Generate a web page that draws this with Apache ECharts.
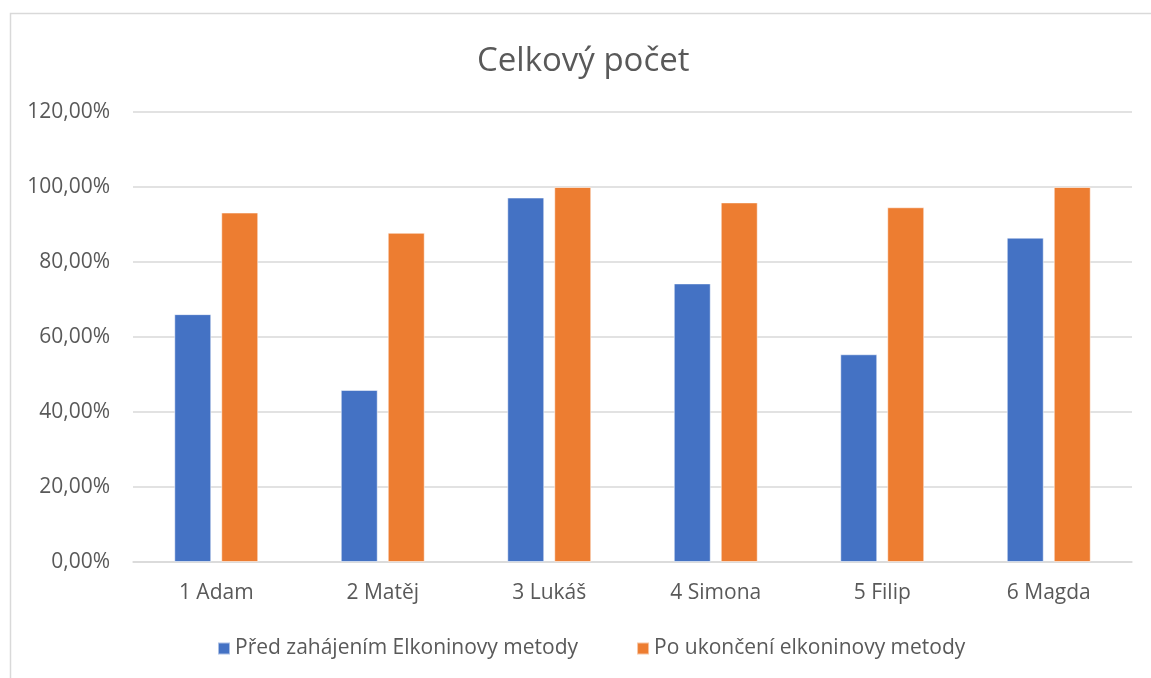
<!DOCTYPE html>
<html lang="cs">
<head>
<meta charset="utf-8">
<title>Celkový počet</title>
<script src="https://cdn.jsdelivr.net/npm/echarts@6/dist/echarts.min.js"></script>
<style>
  html, body { margin: 0; padding: 0; background: #ffffff; }
  #chart { width: 1151px; height: 678px; }
</style>
</head>
<body>
<div id="chart"></div>
<script>
// Children and their overall scores (percent)
const categories = ['1 Adam', '2 Matěj', '3 Lukáš', '4 Simona', '5 Filip', '6 Magda'];
const seriesNames = ['Před zahájením Elkoninovy metody', 'Po ukončení elkoninovy metody'];
const beforeValues = [66.1, 45.9, 97.2, 74.3, 55.4, 86.5];
const afterValues = [93.2, 87.8, 100, 95.9, 94.6, 100];
const yTickLabels = ['0,00%', '20,00%', '40,00%', '60,00%', '80,00%', '100,00%', '120,00%'];

const FONT = '"Open Sans", "DejaVu Sans", sans-serif';
const TEXT = '#595959';
const GRID_LINE = '#d9d9d9';

const chart = echarts.init(document.getElementById('chart'), null, { renderer: 'canvas' });

chart.setOption({
  animation: false,
  backgroundColor: '#ffffff',
  textStyle: { fontFamily: FONT, color: TEXT },
  graphic: [{
    type: 'rect',
    shape: { x: 10.5, y: 13.5, width: 1300, height: 800 },
    style: { fill: 'none', stroke: GRID_LINE, lineWidth: 1.5 },
    silent: true
  }],
  title: {
    text: 'Celkový počet',
    left: 477,
    top: 45,
    padding: 0,
    textStyle: { fontFamily: FONT, fontSize: 33, fontWeight: 'normal', color: TEXT }
  },
  legend: {
    data: seriesNames,
    bottom: 14,
    left: 212,
    itemWidth: 12,
    itemHeight: 12,
    itemGap: 58,
    icon: 'rect',
    textStyle: { fontFamily: FONT, fontSize: 21, color: TEXT }
  },
  grid: { left: 133, right: 19, top: 112, bottom: 116, containLabel: false },
  xAxis: {
    type: 'category',
    data: categories,
    axisLine: { show: true, lineStyle: { color: GRID_LINE, width: 1.5 } },
    axisTick: { show: false },
    axisLabel: { fontFamily: FONT, fontSize: 21, color: TEXT, margin: 21 }
  },
  yAxis: {
    type: 'value',
    min: 0,
    max: 120,
    interval: 20,
    axisLine: { show: false },
    axisTick: { show: false },
    splitLine: { lineStyle: { color: GRID_LINE, width: 1.5 } },
    axisLabel: {
      fontFamily: FONT, fontSize: 21, color: TEXT, margin: 23,
      formatter: (v) => yTickLabels[Math.round(v / 20)]
    }
  },
  series: [
    {
      name: seriesNames[0],
      type: 'bar',
      data: beforeValues,
      barWidth: 37,
      barGap: '27%',
      itemStyle: { color: '#4472C4', borderColor: 'rgba(255,255,255,0.55)', borderWidth: 1 }
    },
    {
      name: seriesNames[1],
      type: 'bar',
      data: afterValues,
      barWidth: 37,
      barGap: '27%',
      itemStyle: { color: '#ED7D31', borderColor: 'rgba(255,255,255,0.55)', borderWidth: 1 }
    }
  ]
});
</script>
</body>
</html>
